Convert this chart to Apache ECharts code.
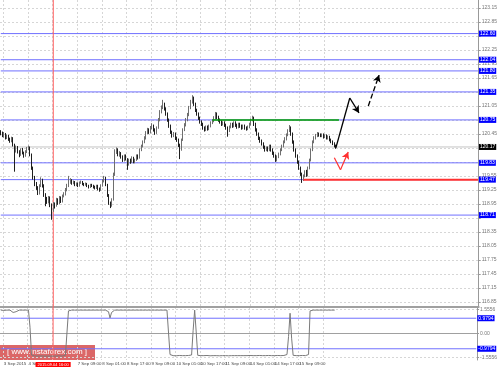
<!DOCTYPE html>
<html><head><meta charset="utf-8">
<script src="https://cdn.jsdelivr.net/npm/echarts@6/dist/echarts.min.js"></script>
<style>html,body{margin:0;padding:0;background:#fff}#c{width:500px;height:367px}</style>
</head><body><div id="c"></div>
<script>
// ---- data (USD/JPY H1, 3-16 Sep 2015) ----
const opens = [
120.50,120.47,120.41,120.45,120.36,120.41,120.34,120.30,120.36,120.21,
120.11,120.17,120.07,120.00,120.11,120.04,119.98,120.07,120.13,120.15,
120.00,119.72,119.51,119.38,119.29,119.18,119.34,119.46,119.34,119.14,
119.06,118.99,119.08,118.93,118.82,118.95,118.91,119.04,118.97,119.08,
119.01,119.12,119.16,119.25,119.34,119.42,119.46,119.40,119.42,119.36,
119.38,119.34,119.40,119.42,119.38,119.36,119.38,119.34,119.31,119.36,
119.34,119.31,119.29,119.34,119.27,119.25,119.34,119.44,119.51,119.36,
119.14,118.97,118.91,119.04,119.57,120.07,120.11,120.00,120.04,119.96,
119.89,119.98,119.91,119.79,119.89,119.85,119.94,119.85,119.89,119.98,
119.94,120.11,120.19,120.28,120.36,120.47,120.54,120.49,120.58,120.62,
120.54,120.47,120.58,120.75,120.92,121.01,121.09,120.99,120.88,120.75,
120.62,120.49,120.41,120.45,120.36,120.32,120.21,120.11,120.32,120.54,
120.64,120.75,120.86,121.01,121.14,121.22,121.09,120.96,120.88,120.79,
120.71,120.66,120.58,120.54,120.60,120.56,120.62,120.69,120.73,120.79,
120.88,120.81,120.75,120.71,120.66,120.69,120.64,120.58,120.52,120.60,
120.66,120.62,120.69,120.64,120.60,120.66,120.62,120.58,120.62,120.58,
120.56,120.60,120.66,120.75,120.79,120.66,120.54,120.45,120.36,120.30,
120.24,120.17,120.11,120.15,120.11,120.19,120.11,120.04,119.98,119.89,
119.96,120.02,120.11,120.19,120.28,120.34,120.43,120.52,120.58,120.45,
120.28,120.11,119.98,119.85,119.72,119.59,119.51,119.55,119.64,119.57,
119.72,119.89,120.11,120.28,120.36,120.41,120.45,120.43,120.41,120.43,
120.39,120.41,120.36,120.39,120.32,120.28,120.24,120.19];
const closes = [
120.47,120.41,120.45,120.36,120.41,120.34,120.30,120.36,120.21,120.11,
120.17,120.07,120.00,120.11,120.04,119.98,120.07,120.13,120.15,120.00,
119.72,119.51,119.38,119.29,119.18,119.34,119.46,119.34,119.14,119.06,
118.99,119.08,118.93,118.82,118.95,118.91,119.04,118.97,119.08,119.01,
119.12,119.16,119.25,119.34,119.42,119.46,119.40,119.42,119.36,119.38,
119.34,119.40,119.42,119.38,119.36,119.38,119.34,119.31,119.36,119.34,
119.31,119.29,119.34,119.27,119.25,119.34,119.44,119.51,119.36,119.14,
118.97,118.91,119.04,119.57,120.07,120.11,120.00,120.04,119.96,119.89,
119.98,119.91,119.79,119.89,119.85,119.94,119.85,119.89,119.98,119.94,
120.11,120.19,120.28,120.36,120.47,120.54,120.49,120.58,120.62,120.54,
120.47,120.58,120.75,120.92,121.01,121.09,120.99,120.88,120.75,120.62,
120.49,120.41,120.45,120.36,120.32,120.21,120.11,120.32,120.54,120.64,
120.75,120.86,121.01,121.14,121.22,121.09,120.96,120.88,120.79,120.71,
120.66,120.58,120.54,120.60,120.56,120.62,120.69,120.73,120.79,120.88,
120.81,120.75,120.71,120.66,120.69,120.64,120.58,120.52,120.60,120.66,
120.62,120.69,120.64,120.60,120.66,120.62,120.58,120.62,120.58,120.56,
120.60,120.66,120.75,120.79,120.66,120.54,120.45,120.36,120.30,120.24,
120.17,120.11,120.15,120.11,120.19,120.11,120.04,119.98,119.89,119.96,
120.02,120.11,120.19,120.28,120.34,120.43,120.52,120.58,120.45,120.28,
120.11,119.98,119.85,119.72,119.59,119.51,119.55,119.64,119.57,119.72,
119.89,120.11,120.28,120.36,120.41,120.45,120.43,120.41,120.43,120.39,
120.41,120.36,120.39,120.32,120.28,120.24,120.19,120.17];
const lows = [
120.42,120.38,120.37,120.33,120.34,120.30,120.26,120.27,120.18,119.64,
120.05,120.03,119.95,119.98,120.01,119.94,119.96,120.04,120.10,119.97,
119.68,119.47,119.33,119.25,119.14,119.15,119.31,119.30,119.10,118.90,
118.95,118.96,118.88,118.61,118.78,118.85,118.89,118.93,118.94,118.97,
118.98,119.09,119.13,119.22,119.31,119.38,119.36,119.37,119.33,119.33,
119.31,119.32,119.38,119.35,119.33,119.34,119.31,119.28,119.29,119.31,
119.28,119.26,119.27,119.24,119.21,119.23,119.32,119.41,119.33,119.10,
118.93,118.86,118.89,119.02,119.55,120.02,119.97,119.96,119.92,119.85,
119.86,119.88,119.68,119.77,119.81,119.83,119.82,119.82,119.87,119.90,
119.92,120.08,120.16,120.25,120.33,120.44,120.45,120.46,120.55,120.50,
120.43,120.45,120.56,120.72,120.89,120.98,120.95,120.84,120.71,120.58,
120.45,120.37,120.38,120.32,120.28,120.17,119.91,120.09,120.30,120.51,
120.61,120.72,120.83,120.98,121.10,121.05,120.92,120.84,120.75,120.67,
120.62,120.54,120.50,120.51,120.52,120.53,120.59,120.66,120.70,120.76,
120.77,120.71,120.67,120.62,120.63,120.60,120.54,120.39,120.49,120.57,
120.58,120.59,120.60,120.56,120.57,120.58,120.54,120.55,120.54,120.52,
120.53,120.57,120.63,120.72,120.62,120.50,120.41,120.32,120.26,120.20,
120.13,120.07,120.08,120.07,120.08,120.07,120.00,119.94,119.85,119.86,
119.93,119.99,120.08,120.16,120.25,120.31,120.40,120.49,120.41,120.24,
120.07,119.94,119.81,119.68,119.55,119.40,119.44,119.52,119.53,119.54,
119.69,119.86,120.08,120.25,120.33,120.38,120.39,120.38,120.38,120.35,
120.36,120.33,120.33,120.29,120.25,120.21,120.16,120.13];
const highs = [
120.53,120.50,120.49,120.47,120.44,120.43,120.37,120.39,120.38,120.24,
120.20,120.19,120.10,120.14,120.15,120.07,120.10,120.17,120.20,120.18,
120.03,119.75,119.55,119.42,119.33,119.37,119.52,119.49,119.37,119.18,
119.10,119.12,119.11,118.96,118.99,118.98,119.08,119.07,119.12,119.11,
119.15,119.20,119.29,119.38,119.55,119.50,119.48,119.45,119.44,119.41,
119.41,119.43,119.45,119.44,119.40,119.41,119.40,119.36,119.38,119.38,
119.36,119.34,119.36,119.36,119.30,119.37,119.48,119.55,119.53,119.38,
119.16,119.00,119.07,119.62,120.12,120.16,120.14,120.08,120.06,119.99,
120.01,120.01,119.93,119.92,119.92,119.97,119.96,119.92,120.01,120.01,
120.14,120.22,120.31,120.40,120.51,120.58,120.57,120.62,120.68,120.65,
120.57,120.61,120.79,120.96,121.06,121.18,121.12,121.02,120.91,120.78,
120.65,120.52,120.49,120.48,120.39,120.35,120.24,120.35,120.57,120.68,
120.79,120.90,121.05,121.18,121.28,121.25,121.12,120.99,120.91,120.82,
120.74,120.69,120.61,120.63,120.63,120.65,120.72,120.76,120.83,120.92,
120.91,120.84,120.78,120.74,120.72,120.72,120.67,120.61,120.63,120.69,
120.69,120.72,120.72,120.67,120.69,120.69,120.65,120.65,120.65,120.61,
120.63,120.69,120.78,120.84,120.82,120.69,120.57,120.48,120.39,120.33,
120.27,120.20,120.18,120.18,120.22,120.22,120.14,120.07,120.01,119.99,
120.05,120.14,120.22,120.31,120.38,120.46,120.55,120.64,120.61,120.48,
120.31,120.14,120.01,119.88,119.75,119.62,119.58,119.67,119.68,119.75,
119.92,120.14,120.31,120.40,120.45,120.49,120.48,120.46,120.46,120.46,
120.44,120.44,120.42,120.41,120.35,120.31,120.27,120.22];
const oscillator = [
1.50,1.50,1.48,1.50,1.50,1.50,1.50,1.50,1.35,1.30,
1.40,1.48,1.50,1.50,1.50,1.50,1.50,1.50,1.50,0.40,
-1.38,-1.42,-1.44,-1.45,-1.45,-1.43,-1.44,-1.45,-1.45,-1.45,
-1.45,-1.44,-1.45,-1.45,-1.45,-1.44,-1.45,-1.45,-1.43,-1.44,
-1.45,-1.42,-1.40,-1.38,1.45,1.50,1.50,1.50,1.50,1.50,
1.50,1.50,1.50,1.50,1.50,1.50,1.50,1.50,1.50,1.50,
1.50,1.50,1.50,1.50,1.50,1.50,1.50,1.50,1.50,1.50,
1.40,1.00,1.35,1.45,1.50,1.50,1.50,1.50,1.50,1.50,
1.50,1.50,1.50,1.50,1.50,1.50,1.50,1.50,1.50,1.50,
1.50,1.50,1.50,1.50,1.50,1.50,1.50,1.50,1.50,1.50,
1.50,1.50,1.50,1.50,1.50,1.50,1.50,1.50,1.50,1.50,
-1.35,-1.40,-1.42,-1.42,-1.43,-1.42,-1.41,-1.42,-1.42,-1.43,
-1.42,-1.42,-1.41,-1.40,-1.38,0.20,1.50,0.10,-1.40,-1.42,
-1.42,-1.43,-1.42,-1.42,-1.41,-1.42,-1.43,-1.42,-1.42,-1.41,
-1.42,-1.42,-1.43,-1.42,-1.42,-1.41,-1.42,-1.42,-1.43,-1.42,
-1.42,-1.41,-1.42,-1.43,-1.42,-1.42,-1.42,-1.41,-1.42,-1.43,
-1.42,-1.42,-1.41,-1.42,-1.42,-1.43,-1.42,-1.42,-1.41,-1.42,
-1.42,-1.43,-1.42,-1.42,-1.41,-1.42,-1.42,-1.43,-1.42,-1.42,
-1.41,-1.42,-1.42,-1.42,-1.41,-1.40,-1.35,-0.20,1.30,-0.30,
-1.40,-1.42,-1.42,-1.43,-1.42,-1.42,-1.41,-1.42,-1.42,-1.40,
-1.35,1.45,1.50,1.50,1.50,1.50,1.50,1.50,1.50,1.50,
1.50,1.50,1.50,1.50,1.50,1.50,1.50,1.50];
const barCount = 310;                    // history + projection space
const timeLabelBars = [2,18,34,50,66,82,98,114,130,146,162,178,194,210];
const timeLabels = ['3 Sep 2015','4 Sep 09:00','','7 Sep 09:00','8 Sep 01:00','8 Sep 17:00','9 Sep 09:00',
  '10 Sep 01:00','10 Sep 17:00','11 Sep 09:00','14 Sep 01:00','14 Sep 17:00','15 Sep 09:00','16 Sep 01:00'];
const priceMin = 116.74, priceMax = 123.32;
const priceTicks = [116.85,117.15,117.45,117.75,118.05,118.35,118.65,118.95,119.25,119.55,119.85,
  120.15,120.45,120.75,121.05,121.35,121.65,121.95,122.25,122.55,122.85,123.15];
const priceLabels = [116.85,117.15,117.45,117.75,118.05,118.35,118.95,119.25,119.55,
  120.45,121.05,121.65,121.95,122.25,122.85,123.15];
const blueLevels = [122.60,122.04,121.80,121.35,120.75,119.83,119.47,118.71];
const currentPrice = 120.17;
const greenLevel = {from:137, to:219, value:120.75};
const redLevel = {from:196, to:309, value:119.47};
const oscMin = -1.70, oscMax = 1.70;
const oscLevels = [0.9794,-0.9794];
const oscTicks = [1.5556,0,-1.5556];
const eventBar = 34, eventLabel = '2015.09.04 16:00';
const arrowSolid = [[217,120.15],[226,121.22],[232,120.90]];
const arrowDashed = [[238,121.05],[245,121.71]];
const arrowRed = [[216,119.94],[220,119.68],[225,120.06]];

// ---- build ----
const categories = Array.from({length: barCount}, (_, i) => String(i));
const candles = opens.map((o, i) => [o, closes[i], lows[i], highs[i]]);
const FONT = 'Liberation Sans';
const isLabelBar = (i) => timeLabelBars.indexOf(i) >= 0;
const lastBar = barCount - 1;

// straight-line series (levels, verticals) drawn through the axes' scales
function lineSeries(grid, pts, color, width, endLabel, z) {
  const s = {type: 'line', xAxisIndex: grid, yAxisIndex: grid, data: pts, showSymbol: false, symbol: 'none',
    silent: true, z: z || 1, lineStyle: {color: color, width: width, type: 'solid'}, itemStyle: {color: color}};
  if (endLabel) s.endLabel = endLabel;
  return s;
}
function boxEnd(bg, digits) {
  return {show: true, distance: 1, formatter: (p) => Number(p.value[1]).toFixed(digits),
    backgroundColor: bg, color: '#fff', fontSize: 5, fontFamily: FONT, padding: [1, 1, 0, 1]};
}
// arrows via markLine (arrow symbol on the last segment)
function arrowSeries(points, color, type, width) {
  const data = [];
  for (let i = 0; i < points.length - 1; i++) {
    const last = i === points.length - 2;
    data.push([{coord: points[i], symbol: 'none'}, {coord: points[i + 1], symbol: last ? 'arrow' : 'none'}]);
  }
  return {type: 'line', xAxisIndex: 0, yAxisIndex: 0, data: [], silent: true, z: 4,
    markLine: {silent: true, animation: false, symbol: ['none', 'none'], symbolSize: [6, 7],
      lineStyle: {color: color, type: type, width: width}, label: {show: false}, data: data}};
}

const series = [];
blueLevels.forEach(v => series.push(lineSeries(0, [[0, v], [lastBar, v]], '#7070ff', 1, boxEnd('#0000ff', 2))));
series.push(lineSeries(0, [[0, currentPrice], [lastBar, currentPrice]], '#c4c4c4', 1, boxEnd('#000000', 2)));
series.push(lineSeries(0, [[eventBar, priceMin], [eventBar, priceMax]], '#ff6060', 1));
series.push({type: 'candlestick', xAxisIndex: 0, yAxisIndex: 0, data: candles, barMaxWidth: 1.2, z: 2,
  itemStyle: {color: '#9a9a9a', color0: '#333333', borderColor: '#6e6e6e', borderColor0: '#1e1e1e', borderWidth: 1}});
series.push(lineSeries(0, [[greenLevel.from, greenLevel.value], [greenLevel.to, greenLevel.value]], '#00a000', 1.5, null, 3));
series.push(lineSeries(0, [[redLevel.from, redLevel.value], [redLevel.to, redLevel.value]], '#ff3030', 2, null, 3));
series.push(arrowSeries(arrowSolid, '#000000', 'solid', 1.3));
series.push(arrowSeries(arrowDashed, '#000000', 'dashed', 1.3));
series.push(arrowSeries(arrowRed, '#ff3030', 'solid', 1.2));
oscLevels.forEach(v => series.push(lineSeries(1, [[0, v], [lastBar, v]], '#7070ff', 1, boxEnd('#0000ff', 4))));
series.push(lineSeries(1, [[eventBar, oscMax], [eventBar, oscMin]], '#ff6060', 1,
  {show: true, distance: 0, align: 'center', verticalAlign: 'top', offset: [0, 2], formatter: eventLabel,
   backgroundColor: '#ff0000', color: '#fff', fontSize: 4, fontFamily: FONT, padding: [1, 2, 0, 2]}));
series.push({type: 'line', xAxisIndex: 1, yAxisIndex: 1, data: oscillator, showSymbol: false, symbol: 'none', z: 2,
  silent: true, lineStyle: {color: '#7a7a7a', width: 1}});

const gridSplitX = {show: true, interval: (i) => isLabelBar(i), lineStyle: {color: '#d6d6d6', type: [2, 2]}};

const chart = echarts.init(document.getElementById('c'), null, {renderer: 'canvas'});
chart.setOption({
  animation: false,
  backgroundColor: '#ffffff',
  textStyle: {fontFamily: FONT},
  grid: [
    {left: 0, top: 0, width: 484, height: 307},
    {left: 0, top: 307, width: 484, height: 53}
  ],
  xAxis: [
    {type: 'category', gridIndex: 0, data: categories, boundaryGap: true,
     axisLine: {show: true, lineStyle: {color: '#a0a0a0', width: 2}},
     axisTick: {show: false}, axisLabel: {show: false}, splitLine: gridSplitX},
    {type: 'category', gridIndex: 1, data: categories, boundaryGap: true,
     axisLine: {show: true, lineStyle: {color: '#a0a0a0', width: 1}},
     axisTick: {show: false},
     axisLabel: {show: true, interval: (i) => isLabelBar(i), align: 'left', margin: 2, fontSize: 4.4, color: '#444', fontFamily: FONT,
       formatter: (v) => { const k = timeLabelBars.indexOf(Number(v)); return k >= 0 ? timeLabels[k] : ''; }},
     splitLine: gridSplitX}
  ],
  yAxis: [
    {type: 'value', gridIndex: 0, position: 'right', min: priceMin, max: priceMax,
     axisLine: {show: true, lineStyle: {color: '#999'}},
     axisTick: {show: true, length: 2, customValues: priceTicks, lineStyle: {color: '#999'}},
     axisLabel: {show: true, customValues: priceLabels, formatter: (v) => v.toFixed(2), fontSize: 5, color: '#777', margin: 3, fontFamily: FONT},
     splitLine: {show: true, lineStyle: {color: '#d6d6d6', type: [2, 2]}}},
    {type: 'value', gridIndex: 1, position: 'right', min: oscMin, max: oscMax,
     axisLine: {show: true, lineStyle: {color: '#999'}},
     axisTick: {show: true, length: 2, customValues: oscTicks, lineStyle: {color: '#999'}},
     axisLabel: {show: true, customValues: oscTicks, formatter: (v) => v === 0 ? '0.00' : v.toFixed(4), fontSize: 5, color: '#777', margin: 3, fontFamily: FONT},
     splitLine: {show: true, lineStyle: {color: '#d6d6d6', type: [2, 2]}}}
  ],
  series: series,
  graphic: [{
    type: 'group', left: 0, top: 345, z: 100,
    children: [
      {type: 'rect', shape: {x: 0, y: 0, width: 95, height: 15}, style: {fill: 'rgba(205,45,45,0.72)'}},
      {type: 'text', x: 7, y: 3, style: {text: '[ www.instaforex.com ]', fill: '#ffffff', font: '8px "Liberation Sans"'}}
    ]
  }]
});
</script>
</body></html>
